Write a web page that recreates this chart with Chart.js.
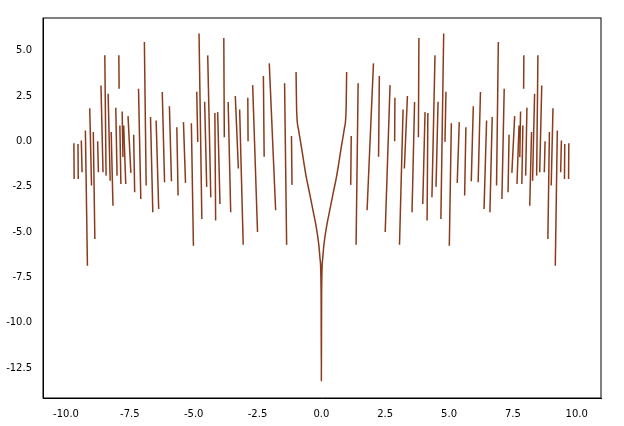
<!DOCTYPE html>
<html><head><meta charset="utf-8">
<script src="https://cdn.jsdelivr.net/npm/chart.js@4"></script>
<style>body{margin:0;background:#fff}canvas{display:block}</style>
</head><body>
<canvas id="c" width="624" height="426"></canvas>
<script>
// central branch
const curveX = [-0.99,-0.97,-0.9,-0.79,-0.6,-0.47,-0.3,-0.21,-0.1,-0.05,-0.01,0,0.01,0.05,0.1,0.21,0.3,0.47,0.6,0.79,0.9,0.97,0.99];
const curveY = [3.82,1.8,0.7,-0.23,-1.9,-2.8,-4.0,-4.65,-5.7,-6.5,-8.3,-13.2,-8.3,-6.5,-5.7,-4.65,-4.0,-2.8,-1.9,-0.23,0.7,1.8,3.82];
// right-side branches (start -> end)
const rightX0 = [1.15,1.36,1.79,2.24,2.50,2.87,3.06,3.25,3.55,3.80,3.97,4.14,4.33,4.49,4.68,4.84,5.01,5.32,5.61,5.87,6.14,6.37,6.60,6.86,7.07,7.31,7.46,7.66,7.77,7.85,7.92,8.00,8.16,8.27,8.43,8.55,8.73,8.87,9.00,9.16,9.37,9.52,9.68];
const rightY0 = [-2.4,-5.7,-3.8,-0.85,-5.0,0.0,-5.7,-1.5,-3.91,0.23,-3.45,-4.37,-3.08,-2.51,-4.28,-0.03,-5.76,-2.29,-2.99,-2.2,-2.25,-3.73,-3.91,-2.44,-3.18,-2.81,-1.74,-2.35,-0.87,-2.35,2.9,-1.89,-3.55,-2.17,-1.89,-1.7,-1.7,-5.39,-2.44,-6.86,-1.7,-2.07,-2.07];
const rightX1 = [1.17,1.44,2.04,2.27,2.69,2.88,3.20,3.37,3.65,3.82,4.06,4.17,4.45,4.57,4.79,4.88,5.09,5.40,5.66,5.95,6.23,6.47,6.69,6.93,7.16,7.35,7.57,7.74,7.80,7.89,7.93,8.05,8.23,8.35,8.48,8.63,8.76,8.93,9.07,9.24,9.40,9.53,9.69];
const rightY1 = [0.3,3.2,4.3,3.6,3.1,2.4,1.75,2.5,2.17,5.70,1.61,1.56,4.74,2.18,5.94,2.73,1.0,1.06,0.78,1.94,2.72,1.15,1.34,5.48,2.9,0.36,1.39,0.87,1.65,0.87,4.74,1.85,0.51,2.62,4.74,3.08,0.0,0.51,1.83,0.6,0.05,-0.14,-0.1];
// left-side branches (start -> end)
const leftX0 = [-1.17,-1.44,-2.04,-2.27,-2.69,-2.88,-3.20,-3.37,-3.65,-3.82,-4.06,-4.17,-4.45,-4.57,-4.79,-4.88,-5.09,-5.40,-5.66,-5.95,-6.23,-6.47,-6.69,-6.93,-7.16,-7.35,-7.57,-7.74,-7.80,-7.89,-7.93,-8.05,-8.23,-8.35,-8.48,-8.63,-8.76,-8.93,-9.07,-9.24,-9.40,-9.53,-9.69];
const leftY0 = [0.3,3.2,4.3,3.6,3.1,2.4,1.75,2.5,2.17,5.70,1.61,1.56,4.74,2.18,5.94,2.73,1.0,1.06,0.78,1.94,2.72,1.15,1.34,5.48,2.9,0.36,1.39,0.87,1.65,0.87,4.74,1.85,0.51,2.62,4.74,3.08,0.0,0.51,1.83,0.6,0.05,-0.14,-0.1];
const leftX1 = [-1.15,-1.36,-1.79,-2.24,-2.50,-2.87,-3.06,-3.25,-3.55,-3.80,-3.97,-4.14,-4.33,-4.49,-4.68,-4.84,-5.01,-5.32,-5.61,-5.87,-6.14,-6.37,-6.60,-6.86,-7.07,-7.31,-7.46,-7.66,-7.77,-7.85,-7.92,-8.00,-8.16,-8.27,-8.43,-8.55,-8.73,-8.87,-9.00,-9.16,-9.37,-9.52,-9.68];
const leftY1 = [-2.4,-5.7,-3.8,-0.85,-5.0,0.0,-5.7,-1.5,-3.91,0.23,-3.45,-4.37,-3.08,-2.51,-4.28,-0.03,-5.76,-2.29,-2.99,-2.2,-2.25,-3.73,-3.91,-2.44,-3.18,-2.81,-1.74,-2.35,-0.87,-2.35,2.9,-1.89,-3.55,-2.17,-1.89,-1.7,-1.7,-5.39,-2.44,-6.86,-1.7,-2.07,-2.07];
const xTicks = [-10,-7.5,-5,-2.5,0,2.5,5,7.5,10];
const yTicks = [5,2.5,0,-2.5,-5,-7.5,-10,-12.5];

const pts = [];
function seg(x0,y0,x1,y1){ for(let i=0;i<x0.length;i++){ pts.push({x:x0[i],y:y0[i]},{x:x1[i],y:y1[i]},{x:x1[i],y:null}); } }
seg(leftX0,leftY0,leftX1,leftY1);
curveX.forEach((x,i)=>pts.push({x,y:curveY[i]}));
pts.push({x:0.99,y:null});
seg(rightX0,rightY0,rightX1,rightY1);

const font={family:'DejaVu Sans',size:10};
new Chart(document.getElementById('c'),{
 type:'line',
 data:{datasets:[{data:pts,parsing:false,normalized:false,borderColor:'#8a3b1c',borderWidth:1.5,pointRadius:0,spanGaps:false,tension:0.3,cubicInterpolationMode:'monotone'}]},
 options:{responsive:false,animation:false,
  layout:{padding:{top:18,right:23,left:0,bottom:0}},
  plugins:{legend:{display:false},tooltip:{enabled:false}},
  scales:{
   x:{type:'linear',min:-10.9,max:10.95,grid:{display:false},border:{color:'#000'},
     afterBuildTicks:s=>{s.ticks=xTicks.map(v=>({value:v}));},
     afterFit:s=>{s.height=28;},
     ticks:{color:'#000',font,padding:2,maxRotation:0,callback:v=>v.toFixed(1)}},
   y:{type:'linear',min:-14.15,max:6.8,grid:{display:false},border:{color:'#000'},
     afterBuildTicks:s=>{s.ticks=yTicks.map(v=>({value:v}));},
     afterFit:s=>{s.width=43;},
     ticks:{color:'#000',font,padding:3,callback:v=>v.toFixed(1)}}
  }},
 plugins:[{id:'frame',afterDraw(c){const a=c.chartArea,x=c.ctx;x.save();x.strokeStyle='#000';x.lineWidth=1;x.strokeRect(a.left,a.top,a.right-a.left,a.bottom-a.top);x.restore();}}]
});
</script>
</body></html>
